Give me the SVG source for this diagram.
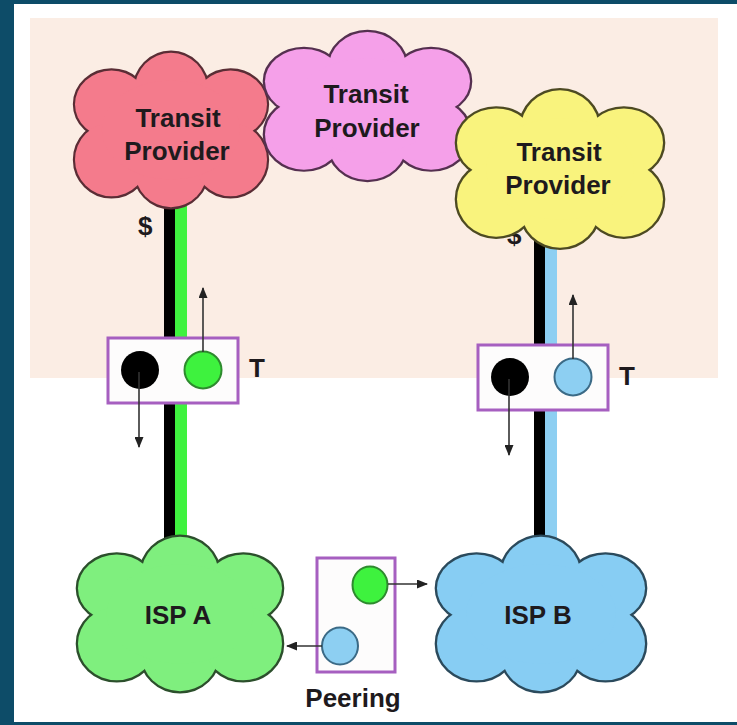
<svg xmlns="http://www.w3.org/2000/svg" xmlns:xlink="http://www.w3.org/1999/xlink" width="737" height="725" viewBox="0 0 737 725">
  <style>
    .lbl { font-family: "Liberation Sans", Arial, sans-serif; font-weight: bold; font-size: 26px; fill: #1e1a1d; text-anchor: middle; }
    .side { text-anchor: start; }
    .edge { fill: none; stroke-width: 4.5; }
    .box { fill: #fdfcfc; stroke: #a65fc0; stroke-width: 3; }
    .arrow { fill: none; stroke: #333; stroke-width: 1.6; marker-end: url(#head); }
  </style>
  <defs>
    <!-- cloud outline built from overlapping bumps; drawn once stroked, once filled -->
    <g id="cloud">
      <circle cx="0" cy="-40" r="38"/>
      <circle cx="0" cy="40" r="38"/>
      <ellipse cx="-62" cy="-26" rx="38" ry="34"/>
      <ellipse cx="-62" cy="30" rx="38" ry="37"/>
      <ellipse cx="62" cy="-26" rx="38" ry="34"/>
      <ellipse cx="62" cy="30" rx="38" ry="37"/>
      <ellipse cx="0" cy="0" rx="72" ry="50"/>
    </g>
    <marker id="head" markerUnits="userSpaceOnUse" markerWidth="11" markerHeight="9" refX="10" refY="4.5" orient="auto">
      <path d="M0,0 L11,4.5 L0,9 z" fill="#222"/>
    </marker>
  </defs>

  <!-- frame -->
  <rect x="0" y="0" width="737" height="725" fill="#0d4c68"/>
  <rect x="14" y="4" width="723" height="718" fill="#ffffff"/>
  <rect x="30" y="18" width="688" height="360" fill="#fbede4"/>

  <!-- links between providers and ISPs -->
  <g id="links">
    <rect x="164" y="190" width="11" height="370" fill="#000"/>
    <rect x="175" y="190" width="12" height="370" fill="#3ef23e"/>
    <rect x="534" y="230" width="11" height="330" fill="#000"/>
    <rect x="545" y="230" width="12" height="330" fill="#8dcff2"/>
  </g>

  <text class="lbl side" x="507" y="244">$</text>

  <g id="transit-left">
    <g transform="translate(171,130) scale(0.96,0.99)">
      <use href="#cloud" class="edge" stroke="#5a2d35"/>
      <use href="#cloud" fill="#f47b8c"/>
    </g>
    <text class="lbl" x="178" y="127">Transit</text>
    <text class="lbl" x="177" y="160">Provider</text>
  </g>

  <g id="transit-middle">
    <g transform="translate(367.5,106) scale(1.025,0.95)">
      <use href="#cloud" class="edge" stroke="#553050"/>
      <use href="#cloud" fill="#f5a0e9"/>
    </g>
    <text class="lbl" x="366" y="103">Transit</text>
    <text class="lbl" x="367" y="137">Provider</text>
  </g>

  <g id="transit-right">
    <g transform="translate(560,169) scale(1.03,1.01)">
      <use href="#cloud" class="edge" stroke="#4d4a22"/>
      <use href="#cloud" fill="#f9f37d"/>
    </g>
    <text class="lbl" x="559" y="161">Transit</text>
    <text class="lbl" x="558" y="194">Provider</text>
  </g>

  <g id="isp-a">
    <g transform="translate(180,614) scale(1.02,0.99)">
      <use href="#cloud" class="edge" stroke="#2c4f2c"/>
      <use href="#cloud" fill="#7fef7e"/>
    </g>
    <text class="lbl" x="178" y="624">ISP A</text>
  </g>

  <g id="isp-b">
    <g transform="translate(541,614) scale(1.04,0.99)">
      <use href="#cloud" class="edge" stroke="#2b4a5c"/>
      <use href="#cloud" fill="#87cdf3"/>
    </g>
    <text class="lbl" x="538" y="624">ISP B</text>
  </g>

  <text class="lbl side" x="138" y="235">$</text>

  <g id="transit-a">
    <rect class="box" x="108" y="338" width="130" height="65"/>
    <circle cx="140" cy="370" r="19" fill="#000"/>
    <circle cx="203" cy="370" r="18.5" fill="#3ef23e" stroke="#2e8a2e" stroke-width="2"/>
    <text class="lbl side" x="249" y="377">T</text>
  </g>

  <g id="transit-b">
    <rect class="box" x="478" y="345" width="130" height="65"/>
    <circle cx="510" cy="377" r="19" fill="#000"/>
    <circle cx="573" cy="377" r="18.5" fill="#8dcff2" stroke="#3b6a86" stroke-width="2"/>
    <text class="lbl side" x="619" y="385">T</text>
  </g>

  <g id="peering">
    <rect class="box" x="317" y="558" width="78" height="114"/>
    <ellipse cx="370" cy="585" rx="17.5" ry="18.5" fill="#3ef23e" stroke="#2e8a2e" stroke-width="2"/>
    <ellipse cx="340" cy="646" rx="18" ry="18.5" fill="#8dcff2" stroke="#3b6a86" stroke-width="2"/>
    <text class="lbl" x="353" y="707">Peering</text>
  </g>

  <!-- traffic direction arrows -->
  <g id="arrows">
    <line class="arrow" x1="203" y1="352" x2="203" y2="288"/>
    <line class="arrow" x1="139" y1="372" x2="139" y2="447"/>
    <line class="arrow" x1="573" y1="359" x2="573" y2="295"/>
    <line class="arrow" x1="509" y1="379" x2="509" y2="455"/>
    <line class="arrow" x1="388" y1="584" x2="427" y2="584"/>
    <line class="arrow" x1="322" y1="646" x2="287" y2="646"/>
  </g>
</svg>
